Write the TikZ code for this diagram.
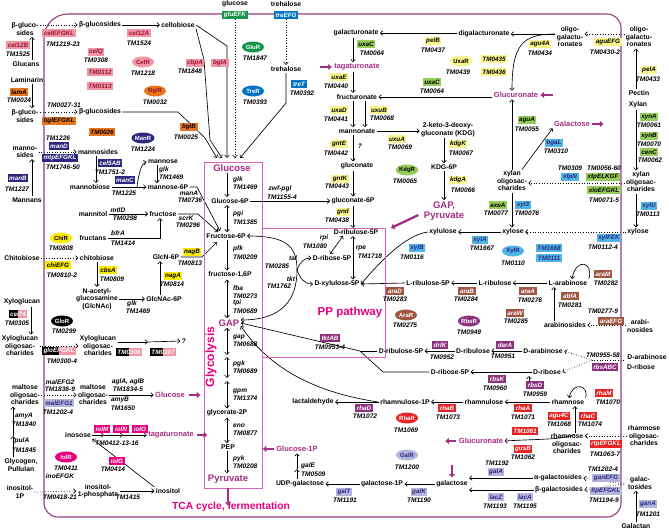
\documentclass[tikz,border=0pt]{standalone}
\usepackage{fontspec}
\setmainfont{Liberation Sans}
\usetikzlibrary{arrows.meta,shapes.geometric,calc}
\pgfdeclarelayer{background}
\pgfsetlayers{background,main}
\definecolor{cframe}{RGB}{150,60,130}
\definecolor{cbox}{RGB}{215,95,190}
\definecolor{cplum}{RGB}{165,45,130}
\definecolor{chot}{RGB}{228,0,127}
\definecolor{cpink}{RGB}{240,150,165}
\definecolor{cpinkt}{RGB}{150,20,50}
\definecolor{corange}{RGB}{232,118,30}
\definecolor{cnavy}{RGB}{45,40,125}
\definecolor{cdgreen}{RGB}{20,150,70}
\definecolor{clgreen}{RGB}{150,205,90}
\definecolor{cblue}{RGB}{0,115,195}
\definecolor{clblue}{RGB}{80,180,230}
\definecolor{cyellow}{RGB}{250,245,140}
\definecolor{cbyellow}{RGB}{255,235,0}
\definecolor{cbrown}{RGB}{160,85,65}
\definecolor{cpurple}{RGB}{140,50,125}
\definecolor{cred}{RGB}{230,35,35}
\definecolor{clav}{RGB}{180,180,222}
\definecolor{cmag}{RGB}{230,0,125}
\tikzset{
 mt/.style={font=\bfseries\fontsize{6.8}{7.5}\selectfont, inner sep=0pt, outer sep=1.5pt, align=center},
 tm/.style={font=\bfseries\itshape\fontsize{6.6}{7.5}\selectfont, inner sep=0pt},
 gb/.style={font=\bfseries\itshape\fontsize{6.3}{7}\selectfont, inner xsep=1.6pt, inner ysep=0.9pt, minimum height=8pt},
 gpk/.style={gb, fill=cpink, text=cpinkt},
 gog/.style={gb, fill=corange, text=black},
 gnv/.style={gb, fill=cnavy, text=white},
 gdg/.style={gb, fill=cdgreen, text=white},
 glg/.style={gb, fill=clgreen, text=black},
 gbl/.style={gb, fill=cblue, text=white},
 glb/.style={gb, fill=clblue, text=cnavy},
 gyl/.style={gb, fill=cyellow, text=black},
 gby/.style={gb, fill=cbyellow, text=black},
 gbr/.style={gb, fill=cbrown, text=white},
 gpu/.style={gb, fill=cpurple, text=white},
 grd/.style={gb, fill=cred, text=white},
 glv/.style={gb, fill=clav, text=cnavy},
 gmg/.style={gb, fill=cmag, text=white},
 gbp/.style={gb, text=white, path picture={
   \fill[black] (path picture bounding box.south west) rectangle (path picture bounding box.north);
   \fill[cpink] (path picture bounding box.north) rectangle (path picture bounding box.south east);}},
 elp/.style={ellipse, font=\bfseries\fontsize{6}{7}\selectfont, inner sep=0pt, minimum width=22pt, minimum height=11pt},
 plm/.style={font=\bfseries\fontsize{7.5}{8}\selectfont, text=cplum, inner sep=0pt, outer sep=1.5pt, align=center},
 bigl/.style={font=\bfseries\fontsize{9.5}{10}\selectfont, text=cplum, inner sep=0pt, outer sep=1.5pt, align=center},
 arr/.style={-{Straight Barb[length=2.4pt,width=4.6pt]}, line width=0.65pt},
 darr/.style={{Straight Barb[length=2.4pt,width=4.6pt]}-{Straight Barb[length=2.4pt,width=4.6pt]}, line width=0.65pt},
 dotarr/.style={arr, dotted},
 thk/.style={draw=cplum, line width=2.3pt, -{Triangle[length=3.5pt,width=6pt]}},
 plainln/.style={line width=0.65pt},
 framel/.style={draw=cframe, line width=1.1pt},
}
\begin{document}
\begin{tikzpicture}[x=1pt,y=-1pt]
\useasboundingbox (0,0) rectangle (669,531);
% frame and pathway boxes
\draw[framel, rounded corners=14pt] (44,200) -- (44,517) -- (621,517) -- (621,14) -- (80,14);
\draw[framel, rounded corners=24pt] (80,14) -- (44,14) -- (44,200);
\draw[cbox, line width=0.8pt] (204,162) rectangle (262,488);
\draw[cbox, line width=0.8pt] (262,228) rectangle (385,357);

% helper x coordinates
\coordinate (ax) at (227,0);
\coordinate (xa) at (353,0);
\coordinate (xb) at (365,0);
\coordinate (xk) at (444,0);
\coordinate (x157) at (157,0);
\coordinate (x160) at (160,0);
\coordinate (x297) at (297,0);
\coordinate (x512) at (512,0);
\coordinate (x554) at (554,0);
\coordinate (x575) at (575,0);
\coordinate (x636) at (636,0);
\coordinate (y34) at (0,34);
\coordinate (y183) at (0,183);

% ---------- left, outside ----------
\node[mt] (bgA) at (25,29) {β-gluco-\\sides};
\node[gpk] (cel12B) at (18,45) {cel12B};
\node[tm] (tm1525) at (18,54) {TM1525};
\node[mt] (glucans) at (26,64) {Glucans};
\node[mt] (laminarin) at (27,80) {Laminarin};
\node[gog] (lamA) at (19,92) {lamA};
\node[tm] (tm0024) at (19,100) {TM0024};
\node[mt] (bgB) at (25,116) {β-gluco-\\sides};
\node[mt] (mnsL) at (25,152) {manno-\\sides};
\node[gnv] (manB) at (18,178) {manB};
\node[tm] (tm1227) at (17,189) {TM1227};
\node[mt] (mannans) at (27,200) {Mannans};
\node[mt] (chitoL) at (22,258) {Chitobiose};
\node[mt] (xyloglucan) at (22,302) {Xyloglucan};
\node[gbp] (cel74) at (18,314) {cel74};
\node[tm] (tm0305) at (17,323) {TM0305};
\node[mt] (xgoL) at (20,346) {Xyloglucan\\oligosac-\\charides};
\node[mt] (maltL) at (25,395) {maltose\\oligosac-\\charides};
\node[tm] (amyA) at (24,416) {amyA};
\node[tm] (tm1840) at (24,424) {TM1840};
\node[tm] (pulA) at (22,441) {pulA};
\node[tm] (tm1845) at (24,450) {TM1845};
\node[mt] (glycogen) at (21,465) {Glycogen,\\Pullulan};
\node[mt] (ino1PL) at (20,492) {inositol-\\1P};
\coordinate (glmid) at (13,436);

% ---------- left, inside ----------
\node[mt] (bgc1) at (100,25) {β-glucosides};
\node[gpk] (celEFGKL) at (59,33) {celEFGKL};
\node[tm] (tm1219) at (63,44) {TM1219-23};
\node[gpk] (celQ) at (96,52) {celQ};
\node[tm] (tm0308) at (96,60) {TM0308};
\node[gpk] (tm0312) at (100,72) {TM0312};
\node[gpk] (tm0313) at (100,86) {TM0313};
\node[gpk] (cel12A) at (139,33) {cel12A};
\node[tm] (tm1524) at (139,43) {TM1524};
\node[elp, fill=cpink, text=cpinkt] (CelR) at (143,62) {CelR};
\node[tm] (tm1218) at (143,73) {TM1218};
\node[mt] (cellobiose) at (178,25) {cellobiose};
\node[elp, fill=corange, text=cpinkt] (BglR) at (155,91) {BglR};
\node[tm] (tm0032) at (155,102) {TM0032};
\node[mt] (bgc2) at (100,112) {β-glucosides};
\node[gog] (bglEFGKL) at (59,121) {bglEFGKL};
\node[tm] (tm0027) at (64,105) {TM0027-31};
\node[gog] (tm0026) at (102,132) {TM0026};
\node[gog] (bglB) at (189,127) {bglB};
\node[tm] (tm0025) at (186,137) {TM0025};
\node[tm] (tm1226) at (58,138) {TM1226};
\node[gnv] (manD) at (59,146) {manD};
\node[mt] (mnsR) at (98,152) {mannosides};
\node[gnv] (mtpEFGKL) at (60,158) {mtpEFGKL};
\node[tm] (tm1746) at (63,167) {TM1746-50};
\node[elp, fill=cnavy, text=white] (ManR) at (143,138) {ManR};
\node[tm] (tm1224) at (143,149) {TM1224};
\node[gnv] (cel5AB) at (110,163) {cel5AB};
\node[tm] (tm1751) at (110,172) {TM1751-2};
\node[mt] (mannobiose) at (90,187) {mannobiose};
\node[mt] (mannose) at (163,162) {mannose};
\node[tm, anchor=west] (glkA) at (159,170) {glk};
\node[tm, anchor=west] (tm1469a) at (159,177) {TM1469};
\node[mt] (man6P) at (168,187) {mannose-6P};
\node[gnv] (manC) at (125,180) {manC};
\node[tm] (tm1225) at (124,193) {TM1225};
\node[tm] (manA) at (189,193) {manA};
\node[tm] (tm0736) at (190,200) {TM0736};
\node[mt] (mannitol) at (93,214) {mannitol};
\node[tm] (mtlD) at (118,210) {mtlD};
\node[tm] (tm0298) at (125,218) {TM0298};
\node[mt] (fructose) at (163,214) {fructose};
\node[tm] (scrK) at (186,218) {scrK};
\node[tm] (tm0296) at (188,225) {TM0296};
\node[mt] (fructans) at (93,238) {fructans};
\node[tm] (bfrA) at (118,233) {bfrA};
\node[tm] (tm1414) at (123,243) {TM1414};
\node[elp, fill=cbyellow] (ChiR) at (61,238) {ChiR};
\node[tm] (tm0808) at (61,248) {TM0808};
\node[mt] (chitoR) at (97,258) {chitobiose};
\node[gby] (chiEFG) at (58,265) {chiEFG};
\node[tm] (tm0810) at (62,275) {TM0810-2};
\node[gby] (cbsA) at (108,270) {cbsA};
\node[tm] (tm0809) at (112,279) {TM0809};
\node[mt] (glcnac) at (97,299) {N-acetyl-\\glucosamine\\(GlcNAc)};
\node[mt] (glcnac6p) at (164,299) {GlcNAc-6P};
\node[tm] (glk3) at (132,304) {glk};
\node[tm] (tm1469c) at (138,311) {TM1469};
\node[mt] (glcn6p) at (166,257) {GlcN-6P};
\node[gby] (nagA) at (173,276) {nagA};
\node[tm] (tm0814) at (172,284) {TM0814};
\node[gby] (nagB) at (192,252) {nagB};
\node[tm] (tm0813) at (190,263) {TM0813};
\node[elp, fill=black, text=white] (GloR) at (62,321) {GloR};
\node[tm] (tm0299) at (64,331) {TM0299};
\node[mt] (xgoR) at (98,346) {Xyloglucan\\oligosac-\\charides};
\node[gbp] (gloEFGKL) at (59,351) {gloEFGKL};
\node[tm] (tm0300) at (62,361) {TM0300-4};
\node[gbp] (tm0306) at (129,352) {TM0306};
\node[gbp] (tm0307) at (163,352) {TM0307};
\node[mt] (qq) at (184,341) {?};
\coordinate (xq1) at (148,342);
\node[mt] (maltR) at (93,395) {maltose\\oligosac-\\charides};
\node[tm] (malEFG2) at (60,382) {malEFG2};
\node[tm] (tm1836) at (60,389) {TM1836-9};
\node[glv] (malEFG1) at (59,403) {malEFG1};
\node[tm] (tm1202a) at (58,412) {TM1202-4};
\node[tm] (aglA) at (128,382) {aglA, aglB};
\node[tm] (tm1834) at (128,389) {TM1834-5};
\node[tm] (amyB) at (120,400) {amyB};
\node[tm] (tm1650) at (123,408) {TM1650};
\node[plm] (glcM) at (170,395) {Glucose};
\node[mt] (inosose) at (78,435) {inosose};
\node[gmg] (iolM) at (102,429) {iolM};
\node[gmg] (iolN) at (121,429) {iolN};
\node[gmg] (iolO) at (140,429) {iolO};
\node[tm] (tm0412) at (117,443) {TM0412-13-16};
\node[plm] (tagM) at (171,435) {tagaturonate};
\coordinate (ia) at (104,435);
\coordinate (ib) at (123,435);
\node[elp, fill=cmag, text=white] (IolR) at (66,457) {IolR};
\node[tm] (tm0411) at (66,468) {TM0411};
\node[gmg] (iolG) at (117,461) {iolG};
\node[tm] (tm0414) at (113,469) {TM0414};
\node[mt] (ino1PR) at (98,491) {inositol-\\1-phosphate};
\node[tm] (inoEFGK) at (60,476) {inoEFGK};
\node[tm] (tm0418) at (60,497) {TM0418-21};
\node[mt] (inositol) at (168,491) {inositol};
\node[tm] (tm1415) at (128,497) {TM1415};

% ---------- top centre ----------
\node[mt] (glucoseTop) at (235,4) {glucose};
\node[gdg] (gluEFK) at (235,15) {gluEFK};
\node[mt] (trehTop) at (286,4) {trehalose};
\node[gbl] (treEFG) at (286,15) {treEFG};
\node[mt] (treh) at (286,69) {trehalose};
\node[gbl] (treT) at (299,84) {treT};
\node[tm] (tm0392) at (302,93) {TM0392};
\node[elp, fill=cdgreen, text=white] (GluR) at (253,47) {GluR};
\node[tm] (tm1847) at (255,58) {TM1847};
\node[elp, fill=cblue, text=white] (TreR) at (253,91) {TreR};
\node[tm] (tm0393) at (255,102) {TM0393};
\node[gpk] (cbpA) at (195,63) {cbpA};
\node[tm] (tm1848) at (190,71) {TM1848};
\node[gpk] (bglA) at (220,63) {bglA};
\coordinate (gin1) at (217,158);
\coordinate (gin2) at (222,158);
\coordinate (gin3) at (227,158);
\coordinate (gin4) at (235,158);
\coordinate (gin5) at (240,158);

% ---------- glycolysis ----------
\node[bigl] (glc) at (232,168) {Glucose};
\node[tm, anchor=west] (glk2) at (233,180) {glk};
\node[tm, anchor=west] (tm1469b) at (233,187) {TM1469};
\node[mt] (g6p) at (230,201) {Glucose-6P};
\node[tm, anchor=west] (pgi) at (233,214) {pgi};
\node[tm, anchor=west] (tm1385) at (233,222) {TM1385};
\node[mt] (f6p) at (226,236) {Fructose-6P};
\node[tm, anchor=west] (pfk) at (233,249) {pfk};
\node[tm, anchor=west] (tm0209) at (233,257) {TM0209};
\node[mt] (f16p) at (230,275) {fructose-1,6P};
\node[tm, anchor=west] (fba) at (233,288) {fba};
\node[tm, anchor=west] (tm0273) at (233,296) {TM0273};
\node[tm, anchor=west] (tpi) at (233,303) {tpi};
\node[tm, anchor=west] (tm0689) at (233,311) {TM0689};
\node[bigl] (gap) at (229,323) {GAP};
\node[tm, anchor=west] (gapg) at (233,337) {gap};
\node[tm, anchor=west] (tm0688) at (233,344) {TM0688};
\node[tm, anchor=west] (pgk) at (233,364) {pgk};
\node[tm, anchor=west] (tm0689b) at (233,371) {TM0689};
\node[tm, anchor=west] (gpm) at (233,391) {gpm};
\node[tm, anchor=west] (tm1374) at (233,398) {TM1374};
\node[mt] (g2p) at (227,413) {glycerate-2P};
\node[tm, anchor=west] (eno) at (233,426) {eno};
\node[tm, anchor=west] (tm0877) at (233,433) {TM0877};
\node[mt] (pep) at (228,447) {PEP};
\node[tm, anchor=west] (pyk) at (233,459) {pyk};
\node[tm, anchor=west] (tm0208) at (233,466) {TM0208};
\node[bigl] (pyr) at (228,479) {Pyruvate};
\node[font=\bfseries\fontsize{10.3}{11}\selectfont, text=chot, inner sep=0pt] (tca) at (231,507) {TCA cycle, fermentation};
\node[font=\bfseries\fontsize{12}{12}\selectfont, text=chot, inner sep=0pt, rotate=90] (glycolysis) at (211,357) {Glycolysis};
\node[font=\bfseries\fontsize{11.5}{12}\selectfont, text=chot, inner sep=0pt] (pp) at (350,313) {PP pathway};
\coordinate (m1) at (227,355);
\coordinate (m2) at (227,357);
\coordinate (m3) at (227,378);
\coordinate (m4) at (227,381);

% ---------- uronate / PP ----------
\node[mt] (galacturonate) at (356,33) {galacturonate};
\node[mt] (digal) at (484,34) {digalacturonate};
\node[gyl] (pelB) at (433,41) {pelB};
\node[tm] (tm0437) at (433,50) {TM0437};
\node[glg] (uxaC1) at (366,44) {uxaC};
\node[tm] (tm0064a) at (372,53) {TM0064};
\node[plm] (tagT) at (357,67) {tagaturonate};
\node[gyl] (uxaE) at (339,77) {uxaE};
\node[tm] (tm0440) at (336,86) {TM0440};
\node[mt] (fructuronate) at (357,97) {fructuronate};
\node[plm] (glcuT) at (516,95) {Glucuronate};
\node[glg] (uxaC2) at (432,82) {uxaC};
\node[tm] (tm0064b) at (432,91) {TM0064};
\node[elp, fill=cyellow] (UxaR) at (461,61) {UxaR};
\node[tm] (tm0439) at (458,72) {TM0439};
\node[gyl] (tm0435) at (494,59) {TM0435};
\node[gyl] (tm0436) at (494,72) {TM0436};
\node[mt] (mannonate) at (357,131) {mannonate};
\node[gyl] (uxaD) at (339,110) {uxaD};
\node[tm] (tm0441) at (336,119) {TM0441};
\node[gyl] (uxuB) at (379,110) {uxuB};
\node[tm] (tm0068) at (382,118) {TM0068};
\node[mt] (kdg) at (448,130) {2-keto-3-deoxy-\\gluconate (KDG)};
\node[gyl] (uxuA) at (397,139) {uxuA};
\node[tm] (tm0069) at (400,147) {TM0069};
\node[gyl] (kdgK) at (458,144) {kdgK};
\node[tm] (tm0067) at (461,153) {TM0067};
\node[mt] (kdg6p) at (444,167) {KDG-6P};
\node[gyl] (gntE) at (339,144) {gntE};
\node[tm] (tm0442) at (336,153) {TM0442};
\node[tm] (q2) at (360,146) {?};
\node[mt] (gluconate) at (357,166) {gluconate};
\node[elp, fill=clgreen] (KdgR) at (407,170) {KdgR};
\node[tm] (tm0065) at (405,181) {TM0065};
\node[gyl] (gntK) at (340,179) {gntK};
\node[tm] (tm0443) at (337,186) {TM0443};
\node[mt] (glc6pa) at (353,201) {gluconate-6P};
\node[tm] (zwf) at (280,189) {zwf-pgl};
\node[tm] (tm1155) at (282,197) {TM1155-4};
\node[gyl] (gnd) at (343,212) {gnd};
\node[tm] (tm0438) at (337,220) {TM0438};
\node[mt] (dru5p) at (356,232) {D-ribulose-5P};
\node[mt] (dr5p) at (332,258) {D-ribose-5P};
\node[tm] (rpi) at (324,238) {rpi};
\node[tm] (tm1080) at (315,246) {TM1080};
\node[mt] (dxu5p) at (337,284) {D-xylulose-5P};
\node[tm] (rpe) at (361,248) {rpe};
\node[tm] (tm1718) at (370,256) {TM1718};
\node[tm] (tal) at (293,258) {tal};
\node[tm] (tm0285) at (277,266) {TM0285};
\node[tm] (tkt) at (291,279) {tkt};
\node[tm] (tm1762) at (279,286) {TM1762};
\coordinate (bj) at (297,270);
\node[bigl] (gappyr) at (444,211) {GAP,\\Pyruvate};
\node[gyl] (kdgA) at (458,180) {kdgA};
\node[tm] (tm0066) at (463,190) {TM0066};
\coordinate (ppcorner) at (391,228);

% ---------- top right ----------
\node[mt] (ogL) at (570,37) {oligo-\\galactu-\\ronates};
\node[mt] (ogR) at (639,37) {oligo-\\galactu-\\ronates};
\node[gyl] (aguEFG) at (608,42) {aguEFG};
\node[tm] (tm0430) at (605,52) {TM0430-2};
\node[gyl] (agu4A) at (540,44) {agu4A};
\node[tm] (tm0434) at (540,53) {TM0434};
\node[gyl] (pelA) at (649,70) {pelA};
\node[tm] (tm0433) at (648,79) {TM0433};
\node[mt] (pectin) at (639,93) {Pectin};
\node[mt] (xylan) at (638,105) {Xylan};
\node[glg] (xynA) at (649,117) {xynA};
\node[tm] (tm0061) at (649,125) {TM0061};
\node[glg] (xynB) at (649,136) {xynB};
\node[tm] (tm0070) at (649,144) {TM0070};
\node[glg] (cenC) at (649,152) {cenC};
\node[tm] (tm0062) at (650,160) {TM0062};
\node[plm] (galactoseT) at (572,124) {Galactose};
\node[mt] (xoL) at (512,181) {xylan\\oligosac-\\charides};
\node[mt] (xoR) at (641,182) {xylan\\oligosac-\\charides};
\node[glg] (aguA) at (527,120) {aguA};
\node[tm] (tm0055) at (527,129) {TM0055};
\node[glb] (bgaL) at (554,143) {bgaL};
\node[tm] (tm0310) at (556,151) {TM0310};
\node[tm] (tm0309) at (570,168) {TM0309};
\node[tm] (tm0056) at (604,168) {TM0056-60};
\node[glb] (xtpN) at (570,177) {xtpN};
\node[glg] (xtpELKGF) at (603,177) {xtpELKGF};
\node[glg] (xloEFGKL) at (604,190) {xloEFGKL};
\node[tm] (tm0071) at (604,200) {TM0071-5};
\node[mt] (xyloseL) at (513,232) {xylose};
\node[mt] (xyloseR) at (638,232) {xylose};
\node[glg] (axeA) at (498,205) {axeA};
\node[tm] (tm0077) at (496,213) {TM0077};
\node[glb] (xyl3) at (523,205) {xyl3};
\node[tm] (tm0076) at (527,213) {TM0076};
\node[glb] (xylU) at (649,206) {xylU};
\node[tm] (tm0113) at (648,214) {TM0113};
\node[glb] (xylFEK) at (609,238) {xylFEK};
\node[tm] (tm0112) at (603,247) {TM0112-4};
\node[elp, fill=clblue, text=cnavy] (XylR) at (513,251) {XylR};
\node[tm] (tm0110) at (513,263) {TM0110};
\node[glb] (tm1668) at (549,248) {TM1668};
\node[glb] (tm0111) at (549,258) {TM0111};
\node[mt] (xylulose) at (443,232) {xylulose};
\node[glb] (xylA) at (480,240) {xylA};
\node[tm] (tm1667) at (482,248) {TM1667};
\node[glb] (xylB) at (417,248) {xylB};
\node[tm] (tm0116) at (412,257) {TM0116};

% ---------- arabinose ----------
\node[mt] (lru5p) at (428,283) {L-ribulose-5P};
\node[gbr] (araD) at (395,291) {araD};
\node[tm] (tm0283) at (395,299) {TM0283};
\node[mt] (lru) at (495,283) {L-ribulose};
\node[gbr] (araB) at (467,291) {araB};
\node[tm] (tm0284) at (466,299) {TM0284};
\node[mt] (lara) at (568,283) {L-arabinose};
\node[gbr] (araA) at (528,291) {araA};
\node[tm] (tm0276) at (530,300) {TM0276};
\node[gbr] (araM) at (603,274) {araM};
\node[tm] (tm0282) at (606,283) {TM0282};
\node[gbr] (abfA) at (570,296) {abfA};
\node[tm] (tm0281) at (570,305) {TM0281};
\node[mt] (arabinosides) at (565,325) {arabinosides};
\node[gbr] (araW) at (515,313) {araW};
\node[tm] (tm0285b) at (516,321) {TM0285};
\node[tm] (tm0277) at (603,311) {TM0277-9};
\node[gbr] (araEFG) at (611,321) {araEFG};
\node[mt] (arabiR) at (640,326) {arabi-\\nosides};
\node[elp, fill=cbrown, text=white] (AraR) at (406,315) {AraR};
\node[tm] (tm0275) at (405,325) {TM0275};
\node[elp, fill=cpurple, text=white] (RbsR) at (469,321) {RbsR};
\node[tm] (tm0949) at (469,332) {TM0949};

% ---------- ribose / arabinose ----------
\node[mt] (dara) at (543,351) {D-arabinose};
\node[mt] (drul) at (473,351) {D-ribulose};
\node[mt] (dru5p2) at (401,351) {D-ribulose-5P};
\node[gpu] (darA) at (505,345) {darA};
\node[tm] (tm0951) at (503,356) {TM0951};
\node[gpu] (drlK) at (440,345) {drlK};
\node[tm] (tm0952) at (442,357) {TM0952};
\node[gpu] (tktAB) at (330,338) {tktAB};
\node[tm] (tm0953) at (330,347) {TM0953-4};
\node[mt] (drib5p2) at (450,372) {D-ribose-5P};
\node[gpu] (rbsK) at (497,379) {rbsK};
\node[tm] (tm0960) at (495,388) {TM0960};
\node[mt] (dribL) at (547,372) {D-ribose};
\node[gpu] (rbsD) at (535,385) {rbsD};
\node[tm] (tm0959) at (535,394) {TM0959};
\node[tm] (tm0955) at (603,355) {TM0955-58};
\node[gpu] (rbsABC) at (605,367) {rbsABC};
\node[mt] (daraR) at (647,357) {D-arabinose};
\node[mt] (dribR) at (641,367) {D-ribose};
\coordinate (tj) at (360,351);
\coordinate (rj) at (592,360);
\coordinate (rjs) at (624,360);

% ---------- rhamnose ----------
\node[mt] (rham) at (568,402) {rhamnose};
\node[grd] (rhaM) at (604,393) {rhaM};
\node[tm] (tm1070) at (608,402) {TM1070};
\node[mt] (rhamnulose) at (484,402) {rhamnulose};
\node[grd] (rhaA) at (523,408) {rhaA};
\node[tm] (tm1071) at (523,417) {TM1071};
\node[mt] (rhu1p) at (405,402) {rhamnulose-1P};
\node[grd] (rhaB) at (447,408) {rhaB};
\node[tm] (tm1073) at (448,417) {TM1073};
\node[mt] (lact) at (313,402) {lactaldehyde};
\node[gpu] (rhaD) at (364,408) {rhaD};
\node[tm] (tm1072) at (365,416) {TM1072};
\node[elp, fill=cred, text=white] (RhaR) at (407,418) {RhaR};
\node[tm] (tm1069) at (406,430) {TM1069};
\node[mt] (rhoL) at (567,444) {rhamnose\\oligosac-\\charides};
\node[grd] (agu4C) at (559,416) {agu4C};
\node[tm] (tm1068) at (559,424) {TM1068};
\node[grd] (rhaC) at (588,416) {rhaC};
\node[tm] (tm1074) at (590,424) {TM1074};
\node[grd] (tm1061) at (525,431) {TM1061};
\node[grd] (gusB) at (523,449) {gusB};
\node[tm] (tm1062) at (523,457) {TM1062};
\node[plm] (glcuB) at (481,441) {Glucuronate};
\node[grd] (rtpEFGKL) at (606,444) {rtpEFGKL};
\node[tm] (tm1063) at (605,454) {TM1063-7};
\node[mt] (rhoR) at (644,436) {rhamnose\\oligosac-\\charides};
\coordinate (rcs) at (575,434);

% ---------- galactose ----------
\node[elp, fill=clav, text=cnavy] (GalR) at (407,455) {GalR};
\node[tm] (tm1200) at (407,467) {TM1200};
\node[mt] (galactose) at (452,484) {galactose};
\node[mt] (gal1p) at (382,484) {galactose-1P};
\node[glv] (galK) at (419,492) {galK};
\node[tm] (tm1190) at (419,500) {TM1190};
\node[mt] (udpgal) at (300,484) {UDP-galactose};
\node[glv] (galT) at (344,492) {galT};
\node[tm] (tm1191) at (345,500) {TM1191};
\node[plm] (glc1p) at (297,449) {Glucose-1P};
\node[tm, anchor=west] (galE) at (301,466) {galE};
\node[tm, anchor=west] (tm0509) at (301,474) {TM0509};
\coordinate (gm) at (297,469);
\node[tm] (tm1192) at (497,463) {TM1192};
\node[glv] (galA) at (496,472) {galA};
\node[mt] (agal) at (558,478) {α-galactosides};
\node[mt] (bgal) at (559,490) {β-galactosides};
\node[glv] (lacZ) at (496,497) {lacZ};
\node[tm] (tm1193) at (495,506) {TM1193};
\node[glv] (lacA) at (525,497) {lacA};
\node[tm] (tm1195) at (525,506) {TM1195};
\node[tm] (tm1202b) at (603,469) {TM1202-4};
\node[glv] (ganEFG) at (606,478) {ganEFG};
\node[glv] (ltpEFGKL) at (606,491) {ltpEFGKL};
\node[tm] (tm1194) at (604,500) {TM1194-9};
\node[mt] (galsR) at (640,483) {galac-\\tosides};
\node[glv] (ganA) at (648,504) {ganA};
\node[tm] (tm1201) at (648,514) {TM1201};
\node[mt] (galactan) at (636,526) {Galactan};
\coordinate (gj) at (624,484);

% ---------- thick arrows ----------
\draw[thk] ([xshift=3pt]glcM.east) -- ([xshift=14pt]glcM.east);
\draw[thk] ([xshift=2pt]tagM.east) -- ([xshift=12pt]tagM.east);
\draw[thk] ([yshift=-3pt]pyr.south) -- ([yshift=-21pt]pyr.south);
\draw[thk] ([xshift=-13pt]tagT.west) -- ([xshift=-1pt]tagT.west);
\draw[thk] ([xshift=13pt]glcuT.east) -- ([xshift=1pt]glcuT.east);
\draw[thk] ([xshift=1pt]galactoseT.east) -- ([xshift=12pt]galactoseT.east);
\draw[thk] ([xshift=-4pt,yshift=-4pt]gappyr.west) -- (ppcorner);
\draw[thk] ([xshift=-1pt]glcuB.west) -- ([xshift=-12pt]glcuB.west);
\draw[thk] ([xshift=-1pt]glc1p.west) -- ([xshift=-12pt]glc1p.west);
\draw[thk] ([yshift=14pt]galactose.north) -- ([yshift=2pt]galactose.north);

% ---------- connectors ----------
\begin{pgfonlayer}{background}
\draw[arr] ([xshift=6pt]glucans.north) -- ([xshift=7pt]bgA.south);
\draw[arr] ([xshift=5pt]laminarin.south) -- ([xshift=7pt]bgB.north);
\draw[arr] ([xshift=5pt]mannans.north) -- ([xshift=7pt]mnsL.south);
\draw[arr] ([xshift=9pt]xyloglucan.south) -- ([xshift=11pt]xgoL.north);
\draw[arr] ([xshift=-8pt]glycogen.north) -- (glmid);
\draw[arr] (glmid) -- ([xshift=-12pt]maltL.south);

\draw[dotarr] (bgA.east |- bgc1.west) -- (bgc1.west);
\draw[arr] (bgc1.east) -- (cellobiose.west);
\draw[dotarr] (bgB.east |- bgc2.west) -- (bgc2.west);
\draw[arr] (bgc2.east) -- (178,112) -- (205,138) -- (gin1);
\draw[dotarr] (mnsL.east |- mnsR.west) -- (mnsR.west);
\draw[arr] ([xshift=-2pt]mnsR.south) -- ([xshift=6pt]mannobiose.north);
\draw[arr] (mannobiose.east) -- (man6P.west);
\draw[arr] (137,187) .. controls (139,171) and (142,163) .. (mannose.west);
\draw[arr] (mannose.south -| x157) -- (man6P.north -| x157);
\draw[arr] (man6P.east) -- (197,187) -- (220,231);
\draw[arr] (mannitol.east) -- (fructose.west);
\draw[arr] (fructose.east) -- (198,214) -- (218,232);
\draw[arr] (fructans.east) -| ([xshift=-3pt]fructose.south);
\draw[dotarr] (chitoL.east) -- (chitoR.west);
\draw[arr] (chitoR.south) -- (glcnac.north);
\draw[arr] (glcnac.east) -- (glcnac6p.west);
\draw[arr] (glcnac6p.north -| x160) -- (glcn6p.south -| x160);
\draw[arr] (glcn6p.east) -- (202,257) -- (217,242);
\draw[dotarr] (xgoL.east) -- (xgoR.west);
\draw[arr] (xgoR.east |- xq1) -- (xq1);
\draw[arr] (xq1) -- (qq.west);
\draw[dotarr] (maltL.east) -- (maltR.west);
\draw[arr] (maltR.east) -- (glcM.west);
\draw[arr] (inosose.east) -- (ia);
\draw[arr] (ia) -- (ib);
\draw[arr] (ib) -- (tagM.west);
\draw[dotarr] (ino1PL.east) -- (ino1PR.west);
\draw[arr] (ino1PR.east) -- (inositol.west);
\draw[arr] (inositol.north west) -- (inosose.south east);

\draw[dotarr] (gluEFK.south) -- (gin4);
\draw[dotarr] (treEFG.south) -- (treh.north);
\draw[arr] (treh.south) -- (286,103) -- (gin5);
\draw[arr] (cellobiose.east) -- (227,46) -- (gin3);
\draw[arr] (cellobiose.south east) -- (204,60) -- (210,140) -- (gin2);

\draw[arr] (glc.south -| ax) -- (g6p.north -| ax);
\draw[darr] (g6p.south -| ax) -- (f6p.north -| ax);
\draw[arr] (f6p.south -| ax) -- (f16p.north -| ax);
\draw[darr] (f16p.south -| ax) -- (gap.north -| ax);
\draw[darr] (gap.south -| ax) -- (m1);
\draw[darr] (m2) -- (m3);
\draw[darr] (m4) -- (g2p.north -| ax);
\draw[darr] (g2p.south -| ax) -- (pep.north -| ax);
\draw[arr] (pep.south -| ax) -- (pyr.north -| ax);

\draw[arr] (digal.west |- galacturonate.east) -- (galacturonate.east);
\draw[arr] (galacturonate.south -| xa) -- (tagT.north -| xa);
\draw[arr] (tagT.south -| xa) -- (fructuronate.north -| xa);
\draw[arr] (glcuT.west |- fructuronate.east) -- (fructuronate.east);
\draw[arr] (fructuronate.south -| xa) -- (mannonate.north -| xa);
\draw[arr] (fructuronate.south -| xb) -- (mannonate.north -| xb);
\draw[arr] (mannonate.east) -- (kdg.west |- mannonate.east);
\draw[arr] (mannonate.south -| xa) -- (gluconate.north -| xa);
\draw[arr] (kdg.south -| xk) -- (kdg6p.north -| xk);
\draw[arr] (kdg6p.south -| xk) -- (gappyr.north -| xk);
\draw[arr] (gluconate.south -| xa) -- (glc6pa.north -| xa);
\draw[arr] (g6p.east) -- (glc6pa.west);
\draw[arr] (glc6pa.south -| xa) -- (dru5p.north -| xa);
\draw[darr] ([xshift=-13pt]dru5p.south) -- ([xshift=-2pt]dr5p.north);
\draw[darr] (dru5p.south -| xa) -- (dxu5p.north -| xa);
\draw[arr] (bj) .. controls (297,245) and (285,236) .. (f6p.east);
\draw[arr] (bj) .. controls (297,300) and (282,320) .. ([yshift=3pt]gap.east);
\draw[arr] (bj) .. controls (300,262) and (304,258) .. (dr5p.west);
\draw[arr] (bj) .. controls (300,278) and (304,284) .. (dxu5p.west);

\draw[dotarr] (ogR.west |- y34) -- (ogL.east |- y34);
\draw[arr] (ogL.west |- y34) -- (digal.east);
\draw[arr] (ogL.west |- y34) .. controls (522,34) and (512,45) .. (glcuT.north -| x512);
\draw[arr] (pectin.north -| x636) -- (ogR.south -| x636);
\draw[arr] (xylan.south -| x636) -- (xoR.north -| x636);
\draw[arr] (xoL.north -| x512) -- (glcuT.south -| x512);
\draw[arr] ([xshift=10pt]xoL.north) -- (galactoseT.south west);
\draw[dotarr] (xoR.west |- y183) -- (xoL.east |- y183);
\draw[arr] (xoL.south -| x512) -- (xyloseL.north -| x512);
\draw[arr] (xoR.south -| x636) -- (xyloseR.north -| x636);
\draw[dotarr] (xyloseR.west) -- (xyloseL.east);
\draw[arr] (xyloseL.west) -- (xylulose.east);
\draw[arr] (xylulose.west) .. controls (405,235) and (380,262) .. (dxu5p.east);

\draw[arr] (lru5p.west) -- (dxu5p.east);
\draw[arr] (lru.west) -- (lru5p.east);
\draw[arr] (lara.west) -- (lru.east);
\draw[arr] (lara.north east) .. controls (594,262) and (576,257) .. ([xshift=4pt]lara.north);
\draw[arr] (arabinosides.north -| x554) -- (lara.south -| x554);
\draw[dotarr] (arabiR.west |- arabinosides.east) -- (arabinosides.east);

\draw[arr] (dara.west) -- (drul.east);
\draw[arr] (drul.west) -- (dru5p2.east);
\draw[plainln] (dru5p2.west) -- (tj);
\draw[plainln] (drib5p2.west) -- (383,372) -- (tj);
\draw[arr] (tj) -- (gap.east);
\draw[arr] (dribL.west) -- (drib5p2.east);
\draw[arr] ([xshift=-6pt]rbsD.north) -- ([xshift=-18pt]dribL.south);
\draw[plainln, dotted] (rjs) -- (rj);
\draw[dotarr] (rj) -- (dara.east);
\draw[dotarr] (rj) -- (dribL.east);

\draw[arr] (rham.west) -- (rhamnulose.east);
\draw[arr] (rhamnulose.west) -- (rhu1p.east);
\draw[arr] (rhu1p.west) -- (lact.east);
\draw[arr] ([xshift=-1pt]rhu1p.west) .. controls (320,393) and (272,372) .. ([yshift=-3pt]gap.east);
\draw[arr] (rham.north east) .. controls (589,385) and (573,381) .. ([xshift=1pt]rham.north);
\draw[arr] (rhoL.north -| x575) -- (rham.south -| x575);
\draw[arr] (rcs) .. controls (565,440) and (535,439) .. (glcuB.east);
\draw[dotarr] (rhoR.west) -- (rhoL.east |- rhoR.west);

\draw[arr] (galactose.west) -- (gal1p.east);
\draw[arr] (gal1p.west) -- (udpgal.east);
\draw[arr] (udpgal.north -| x297) -- (gm);
\draw[arr] (gm) -- (glc1p.south -| x297);
\draw[arr] (agal.west) -- (galactose.east |- agal.west);
\draw[arr] (bgal.west) -- (galactose.east |- bgal.west);
\draw[dotarr] (gj) -- (agal.east);
\draw[dotarr] (gj) -- (bgal.east);
\draw[arr] (galactan.north -| x636) -- (galsR.south -| x636);
\end{pgfonlayer}
\end{tikzpicture}
\end{document}
